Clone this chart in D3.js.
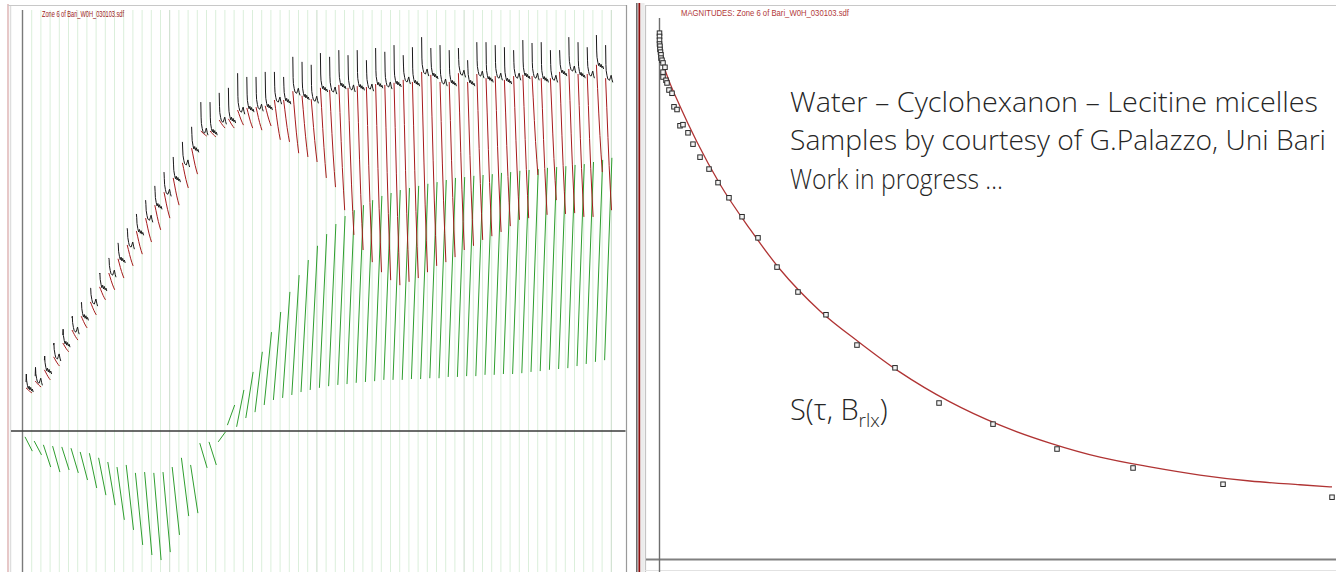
<!DOCTYPE html>
<html>
<head>
<meta charset="utf-8">
<script src="https://cdn.jsdelivr.net/npm/d3@7"></script>
<style>
  html, body { margin: 0; padding: 0; background: #fff; }
  svg { display: block; }
</style>
</head>
<body>
<svg id="chart" width="1336" height="572"></svg>
<script>
// ---------- Left panel: one column per relaxation field (64 fields) ----------
// Levels in arbitrary magnetisation units (0 = baseline, 100 = top of plot)
const plateau = [10.3, 11.9, 14.6, 17.7, 21.0, 24.1, 27.4, 30.8, 34.4, 37.7,
  41.1, 44.4, 47.7, 50.8, 53.9, 57.0, 60.4, 64.0, 67.5, 71.6,
  71.6, 74.2, 74.5, 76.6, 77.1, 77.3, 77.6, 79.0, 79.0, 81.1,
  80.0, 79.2, 81.9, 81.4, 82.6, 81.9, 82.3, 82.1, 82.8, 82.6,
  83.1, 83.8, 83.3, 85.7, 85.0, 83.3, 83.3, 85.4, 83.3, 85.2,
  84.2, 84.7, 83.8, 84.7, 85.0, 84.7, 84.2, 84.2, 85.7, 86.4,
  85.2, 85.2, 87.4, 84.2];
const spikeTop = [11.7, 13.1, 16.9, 20.5, 22.9, 27.0, 30.5, 34.1, 37.5, 41.3,
  44.9, 48.4, 51.8, 55.1, 58.5, 61.8, 65.4, 69.0, 72.6, 78.5,
  78.5, 80.7, 81.9, 85.4, 84.5, 84.5, 85.7, 85.7, 84.5, 89.3,
  88.1, 87.4, 90.2, 89.3, 90.9, 89.7, 90.9, 88.5, 91.4, 90.5,
  92.1, 89.7, 91.6, 94.0, 91.4, 92.1, 90.9, 91.4, 88.5, 92.8,
  92.8, 92.1, 91.6, 90.9, 93.3, 92.6, 92.8, 90.9, 90.9, 94.0,
  92.8, 91.6, 94.5, 92.1];
const redEnd = [9.1, 10.5, 12.2, 15.5, 18.9, 21.7, 24.6, 27.7, 31.3, 33.7,
  36.5, 39.4, 42.2, 45.1, 48.0, 50.8, 53.9, 58.0, 61.3, 70.4,
  70.2, 72.3, 72.3, 73.0, 72.3, 71.8, 72.8, 69.5, 69.0, 66.3,
  65.4, 64.2, 60.4, 58.2, 52.7, 46.8, 43.2, 40.3, 37.9, 36.0,
  34.8, 35.6, 36.5, 37.9, 39.4, 40.3, 41.5, 43.2, 44.2, 45.6,
  46.5, 47.5, 48.9, 50.4, 50.8, 61.1, 51.6, 55.1, 51.8, 52.0,
  51.1, 51.1, 61.8, 52.7];
const greenStart = [-1.4, -2.4, -3.3, -3.6, -3.8, -4.1, -5.0, -5.3, -6.4, -7.4,
  -8.6, -8.1, -10.0, -9.8, -10.0, -9.8, -8.6, -6.4, -8.1, -2.9,
  -2.6, -2.6, 1.4, 1.0, 3.1, 4.5, 6.2, 7.4, 7.9, 8.6,
  9.3, 9.8, 10.3, 10.7, 11.0, 11.2, 11.5, 11.7, 11.9, 12.2,
  12.2, 12.2, 12.4, 12.4, 12.6, 12.6, 12.9, 12.9, 13.1, 13.1,
  13.4, 13.4, 13.6, 13.6, 13.8, 14.1, 14.3, 14.6, 14.8, 15.0,
  15.5, 16.0, 16.5, 16.9];
const greenEnd = [-4.8, -5.7, -8.6, -9.8, -9.3, -10.0, -11.7, -13.6, -15.3, -17.7,
  -21.2, -23.6, -27.2, -29.6, -30.8, -28.9, -24.8, -20.3, -19.6, -8.8,
  -8.1, -0.2, 6.2, 9.8, 14.1, 18.9, 23.6, 28.4, 33.2, 37.2,
  40.8, 44.2, 47.0, 49.4, 51.3, 52.7, 53.9, 55.1, 56.1, 56.8,
  57.5, 58.0, 58.5, 59.0, 59.4, 59.9, 60.4, 60.6, 60.9, 61.1,
  61.3, 61.6, 61.8, 62.1, 62.3, 62.5, 62.8, 63.0, 63.2, 63.5,
  63.7, 64.2, 64.7, 65.2];
// small wobble of the FID tail after each pulse, relative to the plateau level
const fidTail = [1.8, 0.6, -0.2, 0.4, -0.5, 0.1, -0.7, -0.3, -1.0];
// shape of the decaying (red) trace across one column, as a fraction of its drop
const decayShape = [0, 0.22, 0.45, 0.66, 0.84, 1];

// ---------- Right panel: magnitude vs. evolution time ----------
const tauValues = [0, 0, 0, 0, 0.7, 0.7, 1.5, 2.2, 2.2, 3.7,
  5.2, 8.1, 5.2, 5.2, 9.6, 11.1, 14.0, 18.5, 21.4, 25.9,
  30.3, 34.7, 42.1, 49.5, 59.9, 73.2, 86.5, 102.7, 122.0, 145.6,
  173.7, 204.7, 246.1, 291.9, 348.1, 413.2, 493.0, 587.6, 700.0, 833.0,
  994.1];
const magnitudes = [97.2, 96.6, 95.9, 95.2, 94.8, 94.2, 93.7, 93.2, 92.6, 92.2,
  91.7, 90.9, 90.0, 89.1, 88.5, 88.0, 86.7, 86.1, 83.6, 83.1,
  80.1, 80.3, 78.8, 76.7, 74.3, 72.1, 69.6, 66.8, 63.3, 59.4,
  54.0, 49.4, 45.2, 39.6, 35.4, 28.9, 25.0, 20.4, 16.9, 13.9,
  11.5];
const fitTau = [0, 3.7, 12.6, 30.3, 55.4, 89.4, 133.8, 178.1, 237.2, 296.4,
  355.5, 429.4, 503.3, 577.2, 651.1, 725.0, 798.9, 872.8, 946.7, 994.1];
const fitS = [94.2, 92.2, 88.9, 83.7, 77.1, 69.3, 61.0, 53.6, 45.9, 40.0,
  34.6, 29.1, 24.8, 21.5, 18.9, 17.1, 15.6, 14.5, 13.8, 13.4];

const leftTitle = "Zone 6 of Bari_W0H_030103.sdf";
const rightTitle = "MAGNITUDES: Zone 6 of Bari_W0H_030103.sdf";
const noteLines = ["Water – Cyclohexanon – Lecitine micelles",
  "Samples by courtesy of G.Palazzo, Uni Bari",
  "Work in progress …"];

const svg = d3.select("#chart");

// ---------- frames ----------
const frame = svg.append("g");
// left panel border
frame.append("line").attr("x1", 8).attr("x2", 8).attr("y1", 4).attr("y2", 572)
  .attr("stroke", "#d7a3a3").attr("stroke-width", 1.2);
frame.append("line").attr("x1", 10.5).attr("x2", 10.5).attr("y1", 5).attr("y2", 572)
  .attr("stroke", "#dedede").attr("stroke-width", 1.5);
frame.append("line").attr("x1", 8).attr("x2", 627).attr("y1", 5.5).attr("y2", 5.5)
  .attr("stroke", "#c8c8c8").attr("stroke-width", 1);
frame.append("line").attr("x1", 626.5).attr("x2", 626.5).attr("y1", 5).attr("y2", 572)
  .attr("stroke", "#9a9a9a").attr("stroke-width", 1.2);
// splitter between the panels
frame.append("line").attr("x1", 636.8).attr("x2", 636.8).attr("y1", 3).attr("y2", 572)
  .attr("stroke", "#6b6b6b").attr("stroke-width", 1.6);
frame.append("line").attr("x1", 639.4).attr("x2", 639.4).attr("y1", 3).attr("y2", 572)
  .attr("stroke", "#8e1010").attr("stroke-width", 2);
frame.append("rect").attr("x", 640.5).attr("y", 3).attr("width", 4).attr("height", 569)
  .attr("fill", "#ececec");
// right panel border
frame.append("line").attr("x1", 645.5).attr("x2", 645.5).attr("y1", 5).attr("y2", 572)
  .attr("stroke", "#c4c4c4").attr("stroke-width", 1.2);
frame.append("line").attr("x1", 645).attr("x2", 1336).attr("y1", 5.5).attr("y2", 5.5)
  .attr("stroke", "#c8c8c8").attr("stroke-width", 1);
frame.append("line").attr("x1", 645).attr("x2", 1336).attr("y1", 570.5).attr("y2", 570.5)
  .attr("stroke", "#e2e2e2").attr("stroke-width", 1);

// ---------- left panel ----------
const nCols = plateau.length;
const xCol = d3.scaleLinear().domain([0, nCols]).range([22.5, 611.3]);
const yL = d3.scaleLinear().domain([-33.65, 100]).range([572, 12]);

const left = svg.append("g");

// field separators
left.append("g").selectAll("line")
  .data(d3.range(1, nCols + 1))
  .join("line")
  .attr("x1", d => xCol(d)).attr("x2", d => xCol(d))
  .attr("y1", 10).attr("y2", 572)
  .attr("stroke", d => (d % 16 === 0 ? "#c8dcc8" : "#dbefdb"))
  .attr("stroke-width", 1);

// axes
left.append("line").attr("x1", xCol(0)).attr("x2", xCol(0)).attr("y1", 10).attr("y2", 572)
  .attr("stroke", "#7a7a7a").attr("stroke-width", 1.4);
left.append("line").attr("x1", 11).attr("x2", 625.5).attr("y1", yL(0)).attr("y2", yL(0))
  .attr("stroke", "#3a3a3a").attr("stroke-width", 1.5);

const line = d3.line().x(d => d[0]).y(d => yL(d[1]));

// recovery traces (green)
left.append("g").selectAll("path")
  .data(d3.range(nCols))
  .join("path")
  .attr("d", i => line([[xCol(i) + 2.5, greenStart[i]], [xCol(i + 1) + 0.6, greenEnd[i]]]))
  .attr("fill", "none")
  .attr("stroke", "#2f9e2f")
  .attr("stroke-width", 1);

// decay traces (red)
left.append("g").selectAll("path")
  .data(d3.range(nCols))
  .join("path")
  .attr("d", i => {
    const x0 = xCol(i) + 3.5, x1 = xCol(i + 1) + 0.2;
    const pts = decayShape.map((f, k) => [
      x0 + (x1 - x0) * k / (decayShape.length - 1),
      plateau[i] - (plateau[i] - redEnd[i]) * f
    ]);
    return line(pts);
  })
  .attr("fill", "none")
  .attr("stroke", "#a61c1c")
  .attr("stroke-width", 1);

// FID spikes and tails (black)
left.append("g").selectAll("path")
  .data(d3.range(nCols))
  .join("path")
  .attr("d", i => {
    const x0 = xCol(i) + 3.5, x1 = xCol(i + 1) + 1.5;
    const flip = i % 2 ? -1 : 1;
    const pts = [[x0, spikeTop[i]], [x0 + 0.3, plateau[i] + fidTail[0] + 1.5]];
    fidTail.forEach((t, k) => {
      const off = k === 0 ? t : t * (k % 3 === 0 ? flip : 1);
      pts.push([x0 + 0.6 + (x1 - x0 - 0.6) * k / (fidTail.length - 1), plateau[i] + off]);
    });
    return line(pts);
  })
  .attr("fill", "none")
  .attr("stroke", "#1a1a1a")
  .attr("stroke-width", 1);

left.append("text")
  .attr("x", 42).attr("y", 16.5)
  .attr("font-family", "'Liberation Sans Narrow', 'Arial Narrow', 'Liberation Sans', sans-serif")
  .attr("font-size", 9)
  .attr("textLength", 82).attr("lengthAdjust", "spacingAndGlyphs")
  .attr("fill", "#9a1a1a")
  .text(leftTitle);

// ---------- right panel ----------
const xR = d3.scaleLinear().domain([0, 1000]).range([659.5, 1336]);
const yR = d3.scaleLinear().domain([0, 100]).range([559.5, 18]);
const right = svg.append("g");

right.append("line").attr("x1", 646).attr("x2", 1336).attr("y1", yR(0)).attr("y2", yR(0))
  .attr("stroke", "#808080").attr("stroke-width", 2);
right.append("line").attr("x1", xR(0)).attr("x2", xR(0)).attr("y1", 18).attr("y2", 572)
  .attr("stroke", "#6e6e6e").attr("stroke-width", 1.4);

right.append("path")
  .datum(fitTau.map((t, k) => [t, fitS[k]]))
  .attr("d", d3.line().x(d => xR(d[0])).y(d => yR(d[1])).curve(d3.curveMonotoneX))
  .attr("fill", "none")
  .attr("stroke", "#b03434")
  .attr("stroke-width", 1.3);

right.append("g").selectAll("rect")
  .data(tauValues.map((t, k) => [t, magnitudes[k]]))
  .join("rect")
  .attr("x", d => xR(d[0]) - 2.25).attr("y", d => yR(d[1]) - 2.25)
  .attr("width", 4.5).attr("height", 4.5)
  .attr("fill", "#f4f4f4")
  .attr("stroke", "#2a2a2a")
  .attr("stroke-width", 1);

right.append("text")
  .attr("x", 681).attr("y", 15.5)
  .attr("font-family", "'Liberation Sans', Arial, sans-serif")
  .attr("font-size", 9)
  .attr("textLength", 168).attr("lengthAdjust", "spacingAndGlyphs")
  .attr("fill", "#b23a3a")
  .text(rightTitle);

const noteFont = "'Open Sans', 'Noto Sans', sans-serif";
const noteWidths = [528, 536, 213];
const noteBase = [112, 150, 189];
right.append("g").selectAll("text")
  .data(noteLines)
  .join("text")
  .attr("x", 790)
  .attr("y", (d, k) => noteBase[k])
  .attr("font-family", noteFont)
  .attr("font-weight", 300)
  .attr("font-size", 28)
  .attr("fill", "#262626")
  .attr("textLength", (d, k) => noteWidths[k])
  .attr("lengthAdjust", "spacingAndGlyphs")
  .text(d => d);

const sLabel = right.append("text")
  .attr("x", 790).attr("y", 420)
  .attr("font-family", noteFont)
  .attr("font-weight", 300)
  .attr("font-size", 29)
  .attr("fill", "#262626");
sLabel.append("tspan").text("S(τ, B");
sLabel.append("tspan").attr("font-size", 19).attr("dy", 7).text("rlx");
sLabel.append("tspan").attr("dy", -7).text(")");
</script>
</body>
</html>
